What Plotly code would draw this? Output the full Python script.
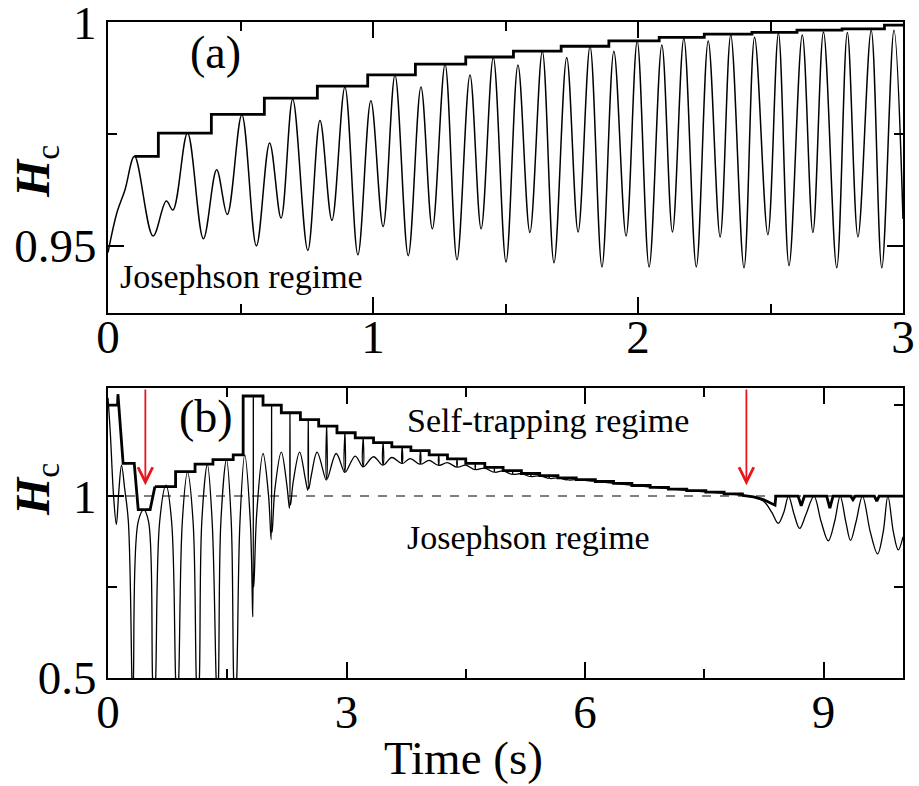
import plotly.graph_objects as go

W, H = 919, 786

# ---------------- Panel (a) data ----------------
a_t = [0.000, 0.033, 0.064, 0.100, 0.170, 0.220, 0.245, 0.300, 0.360, 0.410, 0.450, 0.505,
       0.560, 0.610, 0.653, 0.697, 0.754, 0.800, 0.845, 0.894, 0.943, 0.992, 1.038, 1.083,
       1.133, 1.181, 1.224, 1.272, 1.317, 1.366, 1.408, 1.454, 1.502, 1.547, 1.592, 1.639,
       1.683, 1.731, 1.774, 1.819, 1.864, 1.909, 1.955, 1.997, 2.042, 2.090, 2.130, 2.173,
       2.220, 2.265, 2.310, 2.350, 2.400, 2.440, 2.490, 2.530, 2.570, 2.620, 2.660, 2.700,
       2.750, 2.790, 2.830, 2.880, 2.920, 2.966, 3.000]
a_h = [0.9485, 0.9573, 0.9625, 0.9700, 0.9522, 0.9600, 0.9580, 0.9752, 0.9516, 0.9670, 0.9570, 0.9793,
       0.9500, 0.9730, 0.9562, 0.9828, 0.9490, 0.9780, 0.9557, 0.9855, 0.9480, 0.9824, 0.9543, 0.9882,
       0.9478, 0.9855, 0.9538, 0.9906, 0.9469, 0.9882, 0.9538, 0.9921, 0.9464, 0.9904, 0.9530, 0.9935,
       0.9462, 0.9921, 0.9531, 0.9946, 0.9453, 0.9935, 0.9522, 0.9958, 0.9453, 0.9949, 0.9531, 0.9964,
       0.9453, 0.9958, 0.9520, 0.9971, 0.9451, 0.9966, 0.9525, 0.9975, 0.9456, 0.9971, 0.9530, 0.9978,
       0.9451, 0.9977, 0.9520, 0.9982, 0.9451, 0.9982, 0.9560]

# staircase envelope of panel (a): start time of each step and its level
a_env_t = [0.100, 0.190, 0.390, 0.590, 0.790, 0.980, 1.160, 1.350, 1.530, 1.710, 1.890,
           2.080, 2.250, 2.430, 2.600, 2.770, 2.930, 3.000]
a_env_h = [0.9700, 0.9752, 0.9794, 0.9830, 0.9857, 0.9882, 0.9906, 0.9922, 0.9935, 0.9946, 0.9958,
           0.9966, 0.9973, 0.9977, 0.9982, 0.9985, 0.9993, 0.9993]

a_ticks = [0.95, 1.0]
a_ticktext = ["0.95", "1"]

# ---------------- Panel (b) data ----------------
b_t = [0.000, 0.030, 0.070, 0.105, 0.135, 0.170, 0.210, 0.256, 0.300, 0.310, 0.320,
       0.380, 0.450, 0.510, 0.560, 0.580, 0.600,
       0.650, 0.730, 0.800, 0.850, 0.870, 0.890,
       0.935, 1.000, 1.070, 1.110, 1.130, 1.150,
       1.180, 1.250, 1.310, 1.360, 1.375, 1.390,
       1.420, 1.490, 1.550, 1.580, 1.600, 1.620,
       1.660, 1.720, 1.790, 1.822, 1.828, 1.834, 1.870,
       1.950, 2.020, 2.052, 2.058, 2.064, 2.100,
       2.180, 2.250, 2.283, 2.289, 2.295, 2.330,
       2.410, 2.480, 2.513, 2.519, 2.525, 2.560,
       2.630, 2.745, 2.750, 2.755,
       2.870, 2.975, 2.980, 2.985,
       3.110, 3.205, 3.210, 3.215,
       3.340, 3.455, 3.460, 3.465,
       3.570, 3.695, 3.700, 3.705,
       3.800, 3.925, 3.930, 3.935,
       4.040, 4.155, 4.160, 4.165,
       4.270, 4.385, 4.390, 4.395,
       4.500, 4.615, 4.620, 4.625,
       4.740, 4.855, 4.860, 4.865,
       4.970, 5.085, 5.090, 5.095,
       5.200, 5.315, 5.320, 5.325,
       5.430, 5.545, 5.550, 5.555,
       5.660, 5.775, 5.780, 5.785,
       5.890, 6.100, 6.400, 6.800, 7.200, 7.600, 7.900, 8.100, 8.250, 8.350,
       8.430, 8.500, 8.560, 8.630, 8.700, 8.780, 8.880, 8.970, 9.060, 9.140,
       9.210, 9.280, 9.340, 9.410, 9.490, 9.590, 9.680, 9.750, 9.810, 9.880, 9.940, 10.000]
b_h = [1.270, 1.170, 1.000, 0.922, 1.010, 1.085, 1.020, 0.930, 0.500, 0.400, 0.500,
       0.930, 0.962, 0.930, 0.500, 0.400, 0.500,
       0.930, 1.030, 0.930, 0.500, 0.400, 0.500,
       0.930, 1.065, 0.930, 0.500, 0.400, 0.500,
       0.930, 1.087, 0.930, 0.500, 0.420, 0.500,
       0.930, 1.100, 0.930, 0.500, 0.400, 0.500,
       0.930, 1.113, 0.930, 0.668, 1.275, 0.750, 0.950,
       1.117, 1.000, 0.880, 1.250, 0.900, 1.020,
       1.121, 1.030, 0.966, 1.229, 0.975, 1.040,
       1.121, 1.050, 1.016, 1.210, 1.020, 1.060,
       1.121, 1.044, 1.192, 1.046,
       1.117, 1.065, 1.174, 1.066,
       1.110, 1.080, 1.160, 1.081,
       1.108, 1.085, 1.147, 1.086,
       1.106, 1.090, 1.135, 1.090,
       1.103, 1.088, 1.125, 1.088,
       1.098, 1.085, 1.113, 1.085,
       1.092, 1.080, 1.102, 1.080,
       1.085, 1.073, 1.090, 1.073,
       1.077, 1.066, 1.079, 1.066,
       1.069, 1.060, 1.070, 1.060,
       1.062, 1.054, 1.062, 1.054,
       1.056, 1.049, 1.056, 1.049,
       1.050, 1.045, 1.050, 1.045,
       1.045, 1.041, 1.034, 1.025, 1.017, 1.010, 1.004, 0.998, 0.985, 0.955,
       0.925, 0.955, 1.000, 0.950, 0.911, 0.950, 1.000, 0.930, 0.877, 0.930,
       1.000, 0.930, 0.878, 0.930, 1.000, 0.900, 0.841, 0.900, 1.000, 0.900, 0.852, 0.888]

# thick envelope of panel (b): initial transient (corners)
b_env0_t = [0.000, 0.120, 0.125, 0.150, 0.170, 0.190, 0.330, 0.360, 0.380, 0.530, 0.560, 0.590]
b_env0_h = [1.250, 1.250, 1.280, 1.200, 1.130, 1.090, 1.090, 1.000, 0.963, 0.963, 1.000, 1.026]
# staircase part: start of each step and its level
b_env_t = [0.590, 0.850, 1.095, 1.320, 1.575, 1.700, 1.950, 2.180, 2.420, 2.650, 2.880, 3.110,
           3.340, 3.570, 3.810, 4.040, 4.270, 4.500, 4.740, 4.970, 5.200, 5.430, 5.660, 5.890,
           6.130, 6.360, 6.590, 6.820, 7.050, 7.280, 7.520, 7.750, 7.980]
b_env_h = [1.026, 1.067, 1.088, 1.100, 1.113, 1.275, 1.250, 1.229, 1.210, 1.192, 1.174, 1.160,
           1.147, 1.135, 1.125, 1.113, 1.102, 1.090, 1.079, 1.070, 1.062, 1.056, 1.050, 1.045,
           1.040, 1.035, 1.029, 1.024, 1.019, 1.015, 1.011, 1.006, 1.002]
# final part on the H_c = 1 line with notches
b_env2_t = [7.980, 8.120, 8.250, 8.330, 8.390, 8.400, 8.680, 8.720, 8.760, 9.040, 9.080, 9.120,
            9.340, 9.370, 9.400, 9.640, 9.670, 9.700, 10.000]
b_env2_h = [1.002, 0.998, 0.990, 0.982, 0.975, 1.000, 1.000, 0.973, 1.000, 1.000, 0.967, 1.000,
            1.000, 0.990, 1.000, 1.000, 0.986, 1.000, 1.000]

b_ticks = [0.5, 1.0]
b_ticktext = ["0.5", "1"]

ref_level = [1.0, 1.0]
ref_t = [0.0, 10.0]

arrow_t = [0.47, 8.03]     # times marked by the red arrows
arrow_tip = 1.03
arrow_tail = 1.297

SERIF = "Liberation Serif, Times New Roman, Times, serif"
THIN = 1.5
THICK = 2.8

fig = go.Figure()

# panel (a)
fig.add_trace(go.Scatter(x=a_t, y=a_h, mode="lines", line=dict(color="black", width=THIN, shape="spline", smoothing=1.0),
                         xaxis="x", yaxis="y", showlegend=False, hoverinfo="skip"))
fig.add_trace(go.Scatter(x=a_env_t, y=a_env_h, mode="lines", line=dict(color="black", width=THICK, shape="hv"),
                         xaxis="x", yaxis="y", showlegend=False, hoverinfo="skip"))

# panel (b)
fig.add_trace(go.Scatter(x=ref_t, y=ref_level, mode="lines", line=dict(color="#555555", width=1.5, dash="dash"),
                         xaxis="x2", yaxis="y2", showlegend=False, hoverinfo="skip"))
fig.add_trace(go.Scatter(x=b_t, y=b_h, mode="lines", line=dict(color="black", width=1.3, shape="spline", smoothing=1.0),
                         xaxis="x2", yaxis="y2", showlegend=False, hoverinfo="skip"))
fig.add_trace(go.Scatter(x=b_env0_t, y=b_env0_h, mode="lines", line=dict(color="black", width=THICK),
                         xaxis="x2", yaxis="y2", showlegend=False, hoverinfo="skip"))
fig.add_trace(go.Scatter(x=b_env_t, y=b_env_h, mode="lines", line=dict(color="black", width=THICK, shape="hv"),
                         xaxis="x2", yaxis="y2", showlegend=False, hoverinfo="skip"))
fig.add_trace(go.Scatter(x=b_env2_t, y=b_env2_h, mode="lines", line=dict(color="black", width=THICK),
                         xaxis="x2", yaxis="y2", showlegend=False, hoverinfo="skip"))

# plot-area box in pixels
ML, MR, MT, MB = 108, 16, 22, 108
PW = W - ML - MR
PH = H - MT - MB

def ydom(top_px, bot_px):
    return [1 - (bot_px - MT) / PH, 1 - (top_px - MT) / PH]

def ax_(x_px):
    return (x_px - ML) / PW

def ay_(y_px):
    return 1 - (y_px - MT) / PH

axis_common = dict(showline=True, linecolor="black", linewidth=2, mirror="ticks",
                   ticks="inside", ticklen=16, tickwidth=1.5, tickcolor="black",
                   showgrid=False, zeroline=False, automargin=False, ticklabeloverflow="allow",
                   tickfont=dict(family=SERIF, size=47, color="black"))

minor_common = dict(ticklen=9, ticks="inside", tickcolor="black", tickwidth=1.5)

fig.update_layout(
    width=W, height=H,
    margin=dict(l=ML, r=MR, t=MT, b=MB, autoexpand=False),
    paper_bgcolor="white", plot_bgcolor="white",
    xaxis=dict(domain=[0, 1], range=[0, 3], anchor="y", tick0=0, dtick=1, ticklabelstandoff=-18,
               minor=dict(dtick=0.5, **minor_common), **axis_common),
    yaxis=dict(domain=ydom(22, 313), range=[0.935, 1.00002], anchor="x", tickmode="array",
               tickvals=a_ticks, ticktext=a_ticktext,
               minor=dict(tickmode="linear", dtick=0.025, tick0=0.95, **minor_common), **axis_common),
    xaxis2=dict(domain=[0, 1], range=[0, 10], anchor="y2", tick0=0, dtick=3, ticklabelstandoff=-8,
                minor=dict(dtick=1.5, **minor_common), **axis_common),
    yaxis2=dict(domain=ydom(388, 678), range=[0.5, 1.297], anchor="x2", tickmode="array",
                tickvals=b_ticks, ticktext=b_ticktext,
                minor=dict(tickmode="linear", dtick=0.25, tick0=0.5, **minor_common), **axis_common),
)

def label(text, x_px, y_px, size, xanchor="center", angle=0):
    return dict(text=text, x=ax_(x_px), y=ay_(y_px), xref="paper", yref="paper", showarrow=False,
                xanchor=xanchor, yanchor="middle", textangle=angle,
                font=dict(family=SERIF, size=size, color="black"))

ann = [
    label("(a)", 215, 52, 46),
    label("(b)", 206, 416, 46),
    label("Josephson regime", 118, 276, 34, xanchor="left"),
    label("Self-trapping regime", 405, 420, 34, xanchor="left"),
    label("Josephson regime", 405, 537, 34, xanchor="left"),
    label("<b><i>H</i></b><sub>c</sub>", 36, 172, 48, angle=-90),
    label("<b><i>H</i></b><sub>c</sub>", 36, 490, 48, angle=-90),
    label("Time (s)", 463, 758, 47),
]
for t in arrow_t:
    ann.append(dict(x=t, y=arrow_tip, ax=t, ay=arrow_tail, xref="x2", yref="y2", axref="x2", ayref="y2",
                    text="", showarrow=True, arrowhead=5, arrowsize=1.6, arrowwidth=1.8, arrowcolor="#e8161b"))
fig.update_layout(annotations=ann)

fig.write_html("out.html", config={"displayModeBar": False},
               post_script="document.body.style.margin='0px';document.body.style.padding='0px';")
